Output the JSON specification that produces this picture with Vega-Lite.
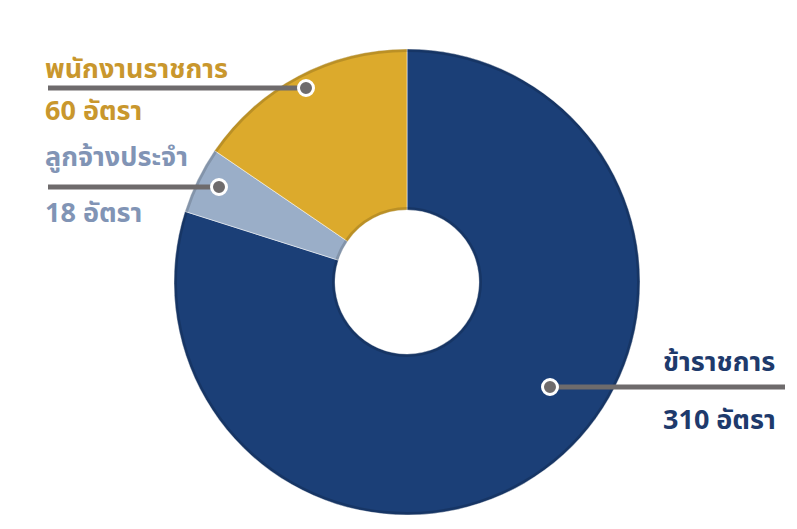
{
  "$schema": "https://vega.github.io/schema/vega-lite/v6.json",
  "width": 797,
  "height": 529,
  "padding": 0,
  "autosize": {"type": "none"},
  "background": "#ffffff",
  "config": {
    "view": {"stroke": null},
    "text": {"font": "Noto Sans Thai, Noto Sans, sans-serif", "fontWeight": "bold", "fontSize": 27, "align": "left", "baseline": "alphabetic"}
  },
  "data": {
    "values": [
      {"category": "ข้าราชการ", "count": 310, "order": 1},
      {"category": "ลูกจ้างประจำ", "count": 18, "order": 2},
      {"category": "พนักงานราชการ", "count": 60, "order": 3}
    ]
  },
  "transform": [{"calculate": "datum.count + ' อัตรา'", "as": "countLabel"}],
  "layer": [
    {
      "mark": {"type": "arc", "innerRadius": 72, "outerRadius": 233, "stroke": "#ffffff", "strokeWidth": 1, "strokeOpacity": 0.5},
      "encoding": {
        "theta": {"field": "count", "type": "quantitative", "stack": true},
        "order": {"field": "order", "type": "quantitative"},
        "color": {"field": "category", "type": "nominal", "scale": {"domain": ["ข้าราชการ", "ลูกจ้างประจำ", "พนักงานราชการ"], "range": ["#1b3f77", "#9aaec8", "#dcaa2c"]}, "legend": null},
        "x": {"datum": 407, "type": "quantitative", "scale": {"domain": [0, 797], "nice": false, "zero": false}, "axis": null},
        "y": {"datum": 282, "type": "quantitative", "scale": {"domain": [0, 529], "nice": false, "zero": false, "reverse": true}, "axis": null}
      }
    },
    {
      "mark": {"type": "arc", "innerRadius": 230, "outerRadius": 233, "fill": "#000000", "fillOpacity": 0.15},
      "encoding": {
        "theta": {"field": "count", "type": "quantitative", "stack": true},
        "order": {"field": "order", "type": "quantitative"},
        "x": {"datum": 407, "type": "quantitative"},
        "y": {"datum": 282, "type": "quantitative"}
      }
    },
    {
      "mark": {"type": "arc", "innerRadius": 72, "outerRadius": 75, "fill": "#000000", "fillOpacity": 0.15},
      "encoding": {
        "theta": {"field": "count", "type": "quantitative", "stack": true},
        "order": {"field": "order", "type": "quantitative"},
        "x": {"datum": 407, "type": "quantitative"},
        "y": {"datum": 282, "type": "quantitative"}
      }
    },
    {
      "transform": [{"filter": "datum.category == 'พนักงานราชการ'"}],
      "layer": [
        {"mark": {"type": "rule", "strokeWidth": 5, "color": "#6e6b6c"}, "encoding": {"x": {"datum": 48, "type": "quantitative"}, "x2": {"datum": 306}, "y": {"datum": 88, "type": "quantitative"}}},
        {"mark": {"type": "point", "shape": "circle", "filled": true, "size": 225, "fill": "#6e6b6c", "stroke": "#ffffff", "strokeWidth": 3, "opacity": 1}, "encoding": {"x": {"datum": 306, "type": "quantitative"}, "y": {"datum": 88, "type": "quantitative"}}},
        {"mark": {"type": "text", "color": "#c9972d"}, "encoding": {"x": {"datum": 45, "type": "quantitative"}, "y": {"datum": 78, "type": "quantitative"}, "text": {"field": "category"}}},
        {"mark": {"type": "text", "color": "#c9972d"}, "encoding": {"x": {"datum": 45, "type": "quantitative"}, "y": {"datum": 120, "type": "quantitative"}, "text": {"field": "countLabel"}}}
      ]
    },
    {
      "transform": [{"filter": "datum.category == 'ลูกจ้างประจำ'"}],
      "layer": [
        {"mark": {"type": "rule", "strokeWidth": 5, "color": "#6e6b6c"}, "encoding": {"x": {"datum": 48, "type": "quantitative"}, "x2": {"datum": 219}, "y": {"datum": 187, "type": "quantitative"}}},
        {"mark": {"type": "point", "shape": "circle", "filled": true, "size": 225, "fill": "#6e6b6c", "stroke": "#ffffff", "strokeWidth": 3, "opacity": 1}, "encoding": {"x": {"datum": 219, "type": "quantitative"}, "y": {"datum": 187, "type": "quantitative"}}},
        {"mark": {"type": "text", "color": "#8194b5"}, "encoding": {"x": {"datum": 45, "type": "quantitative"}, "y": {"datum": 166, "type": "quantitative"}, "text": {"field": "category"}}},
        {"mark": {"type": "text", "color": "#8194b5"}, "encoding": {"x": {"datum": 45, "type": "quantitative"}, "y": {"datum": 222, "type": "quantitative"}, "text": {"field": "countLabel"}}}
      ]
    },
    {
      "transform": [{"filter": "datum.category == 'ข้าราชการ'"}],
      "layer": [
        {"mark": {"type": "rule", "strokeWidth": 5, "color": "#6e6b6c"}, "encoding": {"x": {"datum": 550, "type": "quantitative"}, "x2": {"datum": 785}, "y": {"datum": 387, "type": "quantitative"}}},
        {"mark": {"type": "point", "shape": "circle", "filled": true, "size": 225, "fill": "#6e6b6c", "stroke": "#ffffff", "strokeWidth": 3, "opacity": 1}, "encoding": {"x": {"datum": 550, "type": "quantitative"}, "y": {"datum": 387, "type": "quantitative"}}},
        {"mark": {"type": "text", "color": "#1e3a6c"}, "encoding": {"x": {"datum": 663, "type": "quantitative"}, "y": {"datum": 371, "type": "quantitative"}, "text": {"field": "category"}}},
        {"mark": {"type": "text", "color": "#1e3a6c"}, "encoding": {"x": {"datum": 663, "type": "quantitative"}, "y": {"datum": 429, "type": "quantitative"}, "text": {"field": "countLabel"}}}
      ]
    }
  ]
}
